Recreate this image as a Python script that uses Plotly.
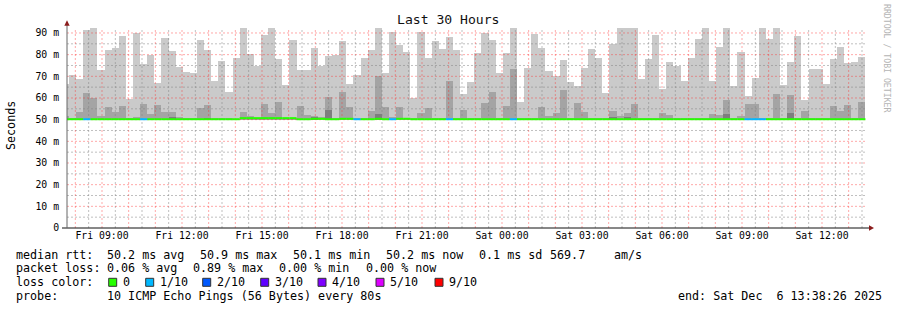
import plotly.graph_objects as go
from datetime import datetime, timedelta

# ---------------- data (milliseconds) ----------------
FLOOR_MS = 50.0  # lowest ping of every step (smoke starts here)

# highest ping (ping 10 of 10) per 16-minute step; first entry is the partial step at the left edge
ping_max_ms = [
    66.6,
    70.8, 68.9, 91.2, 92.5, 72.8, 82.3, 82.9, 88.8, 59.7, 90.2, 75.8, 80.0, 67.1, 87.8,
    81.8, 74.3, 72.2, 71.7, 86.6, 82.3, 67.7, 76.9, 62.9, 78.3, 92.5, 80.5, 74.9, 89.2,
    92.5, 78.2, 66.2, 86.9, 73.1, 73.1, 83.2, 74.6, 79.5, 80.0, 86.5, 66.6, 70.8, 78.6,
    82.3, 92.5, 71.7, 90.6, 84.6, 81.4, 60.2, 90.6, 78.6, 86.5, 82.8, 88.3, 82.3, 62.0,
    67.4, 80.9, 90.2, 86.9, 71.5, 80.9, 92.5, 58.3, 74.0, 89.7, 83.2, 72.6, 70.3, 77.7,
    67.5, 65.7, 74.0, 82.8, 78.6, 62.5, 85.1, 92.5, 92.5, 92.5, 68.9, 78.2, 89.2, 64.3,
    76.8, 74.9, 68.0, 78.6, 87.4, 92.5, 68.0, 83.7, 92.5, 65.7, 81.4, 61.1, 69.4, 92.5,
    87.4, 92.5, 66.2, 76.8, 88.8, 59.2, 73.5, 73.5, 66.6, 78.2, 83.7, 76.3, 76.8, 79.1,
]

# second highest ping (ping 9 of 10)
ping_9_ms = [
    51.5,
    50.5, 53.4, 62.5, 60.2, 51.5, 55.7, 53.4, 56.5, 50.9, 51.2, 57.4, 52.5, 56.9, 53.4,
    53.4, 51.4, 50.8, 50.6, 55.5, 56.9, 50.9, 50.9, 50.6, 50.3, 53.7, 51.8, 50.9, 57.4,
    53.2, 58.3, 50.8, 50.8, 56.5, 52.3, 51.8, 51.2, 60.6, 50.8, 62.9, 56.0, 50.8, 50.8,
    54.2, 70.3, 56.0, 51.4, 56.0, 50.8, 50.8, 53.2, 55.5, 50.8, 50.8, 68.0, 50.8, 54.6,
    50.8, 50.8, 57.8, 62.9, 50.8, 56.5, 73.5, 50.8, 50.9, 50.8, 56.0, 51.8, 53.2, 63.8,
    50.8, 57.8, 53.7, 50.8, 50.8, 50.8, 54.2, 51.8, 53.2, 57.4, 50.8, 50.8, 50.8, 53.2,
    52.3, 50.8, 50.8, 50.9, 50.8, 50.8, 52.8, 52.3, 59.2, 50.8, 51.8, 57.4, 57.4, 50.9,
    50.9, 62.0, 50.8, 61.5, 50.8, 54.2, 50.8, 50.8, 50.8, 56.5, 54.2, 56.9, 50.8, 58.3,
]

# third highest ping (ping 8 of 10), only where it rises visibly above the floor
ping_8_ms = [
    None,
    None, None, None, None, None, None, None, None, None, None, None, None, None, None,
    51.1, None, None, None, None, 50.8, None, None, None, None, None, None, None, None,
    None, None, None, None, None, None, 51.0, None, 54.6, None, None, None, None, None,
    None, 52.8, None, None, None, None, None, None, None, None, None, None, None, None,
    None, None, None, None, None, None, None, None, None, None, None, None, None, None,
    None, None, None, None, None, None, 51.0, None, 51.0, None, None, None, None, None,
    None, None, None, None, None, None, None, None, 52.8, None, None, None, None, None,
    None, None, None, 53.2, None, None, None, None, None, None, None, None, None, None,
]

# median rtt per step
median_ms = [
    50.2,
    50.2, 50.2, 50.2, 50.2, 50.2, 50.2, 50.2, 50.2, 50.2, 50.2, 50.2, 50.2, 50.2, 50.2,
    50.2, 50.2, 50.2, 50.2, 50.2, 50.2, 50.2, 50.2, 50.2, 50.2, 50.7, 50.7, 50.7, 50.7,
    50.7, 50.7, 50.7, 50.7, 50.2, 50.2, 50.4, 50.4, 50.2, 50.2, 50.4, 50.4, 50.2, 50.2,
    50.2, 50.4, 50.2, 50.2, 50.4, 50.4, 50.2, 50.2, 50.2, 50.2, 50.2, 50.2, 50.2, 50.2,
    50.2, 50.2, 50.2, 50.2, 50.2, 50.2, 50.2, 50.2, 50.2, 50.2, 50.2, 50.2, 50.2, 50.2,
    50.2, 50.2, 50.2, 50.2, 50.2, 50.2, 50.2, 50.2, 50.2, 50.2, 50.2, 50.2, 50.2, 50.2,
    50.2, 50.2, 50.2, 50.2, 50.2, 50.2, 50.2, 50.2, 50.2, 50.2, 50.2, 50.2, 50.2, 50.2,
    50.2, 50.2, 50.2, 50.2, 50.2, 50.2, 50.2, 50.2, 50.2, 50.2, 50.2, 50.2, 50.2, 50.2,
]

# lost pings out of 10 per step
loss_count = [
    0,
    0, 0, 1, 0, 0, 0, 0, 0, 0, 0, 1, 0, 0, 0,
    0, 0, 0, 0, 0, 0, 0, 0, 0, 0, 0, 0, 0, 0,
    0, 0, 0, 0, 0, 0, 0, 0, 0, 0, 0, 0, 1, 0,
    0, 0, 0, 1, 0, 0, 0, 0, 0, 0, 0, 1, 0, 0,
    0, 0, 0, 0, 0, 0, 1, 0, 0, 0, 0, 0, 0, 0,
    0, 0, 0, 0, 0, 0, 0, 0, 0, 0, 0, 0, 0, 0,
    0, 0, 0, 0, 0, 0, 0, 0, 0, 0, 0, 1, 1, 1,
    0, 0, 0, 0, 0, 0, 0, 0, 0, 0, 0, 0, 0, 0,
]

loss_labels = ["0", "1/10", "2/10", "3/10", "4/10", "5/10", "9/10"]
loss_colors = ["#26ff00", "#00b8ff", "#0059ff", "#5e00ff", "#7e00ff", "#dd00ff", "#ff0000"]
loss_class_colors = {0: "#26ff00", 1: "#00b8ff", 2: "#0059ff", 3: "#5e00ff",
                     4: "#7e00ff", 5: "#dd00ff", 9: "#ff0000"}

y_ticks_ms = [0, 10, 20, 30, 40, 50, 60, 70, 80, 90]
y_tick_text = ["0", "10 m", "20 m", "30 m", "40 m", "50 m", "60 m", "70 m", "80 m", "90 m"]

title_text = "Last 30 Hours"
stats_rows = [
    ("median rtt:", ["50.2 ms avg", "50.9 ms max", "50.1 ms min", "50.2 ms now", "0.1 ms sd", "569.7", "am/s"]),
    ("packet loss:", ["0.06 % avg", "0.89 % max", "0.00 % min", "0.00 % now"]),
]
probe_text = "10 ICMP Echo Pings (56 Bytes) every 80s"
end_text = "end: Sat Dec  6 13:38:26 2025"

# ---------------- geometry / time axis ----------------
W, H = 897, 310
PL, PR, PT, PB = 67, 867, 28, 228
T_START = datetime(2025, 12, 5, 7, 41, 15)
T_END = T_START + timedelta(hours=30)
STEP = timedelta(minutes=16)
FIRST_STEP_START = datetime(2025, 12, 5, 7, 29, 45)
Y_MAX = 0.0923

n = len(ping_max_ms)
starts = [FIRST_STEP_START + i * STEP for i in range(n)]
centers = [s + STEP / 2 for s in starts]


def fx(x):
    return (x - PL) / (PR - PL)


def fy(y):
    return (PB - y) / (PB - PT)


def nb(s):
    return s.replace(" ", "\u00a0")


MONO = "DejaVu Sans Mono"
fig = go.Figure()

# smoke layers
for vals, col in [(ping_max_ms, "#cacaca"), (ping_9_ms, "#a4a4a4"), (ping_8_ms, "#7e7e7e")]:
    xs, hs, bs = [], [], []
    for t, v in zip(centers, vals):
        if v is None:
            continue
        xs.append(t)
        hs.append((v - FLOOR_MS) / 1000)
        bs.append(FLOOR_MS / 1000)
    fig.add_trace(go.Bar(x=xs, y=hs, base=bs, width=STEP.total_seconds() * 1000,
                         marker=dict(color=col, line=dict(width=0)), hoverinfo="skip"))


# grid lines (drawn over the smoke, like rrdtool)
def vgrid(times, color):
    xs, ys = [], []
    for t in times:
        xs += [t, t, None]
        ys += [0, Y_MAX, None]
    fig.add_trace(go.Scatter(x=xs, y=ys, mode="lines", hoverinfo="skip",
                             line=dict(color=color, width=1, dash="2px,2px")))


def hgrid(vals, color):
    xs, ys = [], []
    for v in vals:
        xs += [T_START, T_END, None]
        ys += [v, v, None]
    fig.add_trace(go.Scatter(x=xs, y=ys, mode="lines", hoverinfo="skip",
                             line=dict(color=color, width=1, dash="2px,2px")))


hour0 = T_START.replace(minute=0, second=0) + timedelta(hours=1)
hours = []
halves = []
t = hour0
while t < T_END:
    hours.append(t)
    if t + timedelta(minutes=30) < T_END:
        halves.append(t + timedelta(minutes=30))
    t += timedelta(hours=1)
GRAY = "rgba(130,130,130,0.5)"
RED = "rgba(255,40,40,0.40)"
vgrid(halves, GRAY)
hgrid([v / 1000 for v in range(5, 90, 10)], GRAY)
vgrid(hours, RED)
hgrid([v / 1000 for v in range(10, 100, 10)], RED)

# median line coloured by loss
for cls, col in loss_class_colors.items():
    xs, ys = [], []
    for s, m, l in zip(starts, median_ms, loss_count):
        if l != cls:
            continue
        xs += [s, s + STEP, None]
        ys += [m / 1000, m / 1000, None]
    if xs:
        fig.add_trace(go.Scatter(x=xs, y=ys, mode="lines", hoverinfo="skip",
                                 line=dict(color=col, width=2)))

shapes = []
# axes
shapes.append(dict(type="line", xref="paper", yref="paper", x0=fx(62), x1=fx(869), y0=0, y1=0,
                   line=dict(color="#111111", width=1)))
shapes.append(dict(type="line", xref="paper", yref="paper", x0=0, x1=0, y0=fy(228), y1=fy(23),
                   line=dict(color="#666666", width=1)))
# arrows
ARROW = "#8b1c1c"
shapes.append(dict(type="path", xref="paper", yref="paper", fillcolor=ARROW, line=dict(width=0),
                   path=f"M {fx(64.3)} {fy(25.8)} L {fx(69.7)} {fy(25.8)} L {fx(67)} {fy(20.3)} Z"))
shapes.append(dict(type="path", xref="paper", yref="paper", fillcolor=ARROW, line=dict(width=0),
                   path=f"M {fx(869)} {fy(225.2)} L {fx(869)} {fy(230.8)} L {fx(874)} {fy(228)} Z"))

annotations = []


def ann(x, y, text, size=11.7, color="#000000", anchor="left", angle=0, yanchor="middle"):
    annotations.append(dict(x=fx(x), y=fy(y), xref="paper", yref="paper", text=nb(text),
                            showarrow=False, xanchor=anchor, yanchor=yanchor, textangle=angle,
                            borderpad=0, borderwidth=0,
                            font=dict(family=MONO, size=size, color=color)))


ann(448, 20, title_text, size=13.1, color="#111111", anchor="center")
ann(11, 125, "Seconds", size=11.7, anchor="center", angle=-90)
ann(887, 59, "RRDTOOL / TOBI OETIKER", size=8.2, color="#b4b4b4", anchor="center", angle=90)

row_y = [254.6, 268.4, 282.4, 296.3]
field_x = [[107.3, 200.3, 293.3, 386, 479.3, 550, 614.3],
           [107.3, 193.3, 279.3, 365.7]]
for (label, fields), yy, xs in zip(stats_rows, row_y, field_x):
    ann(16, yy, label)
    for fxp, ftxt in zip(xs, fields):
        ann(fxp, yy, ftxt)

ann(16, row_y[2], "loss color:")
box_x = [108.7, 145.7, 202.7, 260.7, 318, 376, 435]
for bx, lab, col in zip(box_x, loss_labels, loss_colors):
    shapes.append(dict(type="rect", xref="paper", yref="paper", x0=fx(bx), x1=fx(bx + 8),
                       y0=fy(286.3), y1=fy(278.3), fillcolor=col,
                       line=dict(color="#333333", width=1)))
    ann(bx + 14.2, row_y[2], lab)

ann(16, row_y[3], "probe:")
ann(107.3, row_y[3], probe_text)
ann(678.3, row_y[3], end_text)

fig.update_layout(
    width=W, height=H,
    margin=dict(l=PL, r=W - PR, t=PT, b=H - PB, pad=0),
    paper_bgcolor="white", plot_bgcolor="white",
    barmode="overlay", bargap=0, showlegend=False,
    shapes=shapes, annotations=annotations,
    xaxis=dict(type="date", range=[T_START, T_END], showgrid=False, zeroline=False,
               showline=False, tickformat="%a %H:%M", dtick=3 * 3600 * 1000,
               tick0="2025-12-05 00:00:00", ticks="", automargin=False,
               tickfont=dict(family=MONO, size=9.8, color="#000000")),
    yaxis=dict(range=[0, Y_MAX], showgrid=False, zeroline=False, showline=False,
               tickvals=[v / 1000 for v in y_ticks_ms], ticktext=y_tick_text,
               ticks="outside", ticklen=5, tickcolor="rgba(0,0,0,0)", automargin=False,
               tickfont=dict(family=MONO, size=9.8, color="#000000")),
)

fig.write_html("out.html")
